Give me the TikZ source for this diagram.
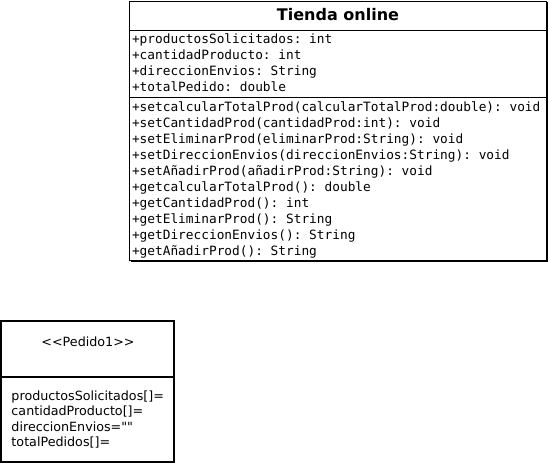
\documentclass[tikz,border=0pt]{standalone}
\usepackage{fontspec}
\setmainfont{DejaVu Sans}[Ligatures=TeXOff]
\setmonofont{DejaVu Sans Mono}

\tikzset{every picture/.style={line width=1pt}}
\tikzset{
  mono/.style={anchor=base west,inner sep=0pt,font=\fontsize{12.8}{16}\selectfont\ttfamily},
  sans/.style={anchor=base west,inner sep=0pt,font=\fontsize{12.7}{15.5}\selectfont},
}

\begin{document}
\begin{tikzpicture}[x=1pt,y=1pt,yscale=-1,xscale=1]
\useasboundingbox (0,0) rectangle (549,464);

%Shape: Rectangle [Tienda online]
\draw [fill=white] (129.5,1) -- (546,1) -- (546,260) -- (129.5,260) -- cycle ;
%Shadow edges
\draw [line width=1.2pt] (547,2) -- (547,261) -- (130.5,261) ;
%Straight Lines
\draw   (129.5,30) -- (546,30) ;
%Straight Lines
\draw   (129.5,97) -- (546,97) ;

%Shape: Rectangle [Pedido1]
\draw [line width=2pt] (1,321) -- (174,321) -- (174,462) -- (1,462) -- cycle ;
%Straight Lines
\draw [line width=2pt] (1,377) -- (174,377) ;

% Text Node
\node (tienda) [anchor=base,inner sep=0pt,font=\fontsize{16}{19}\selectfont\bfseries] at (338,20) {Tienda online};
% Text Node
\node (attr1) [mono] at (131.5,43) {+productosSolicitados: int};
% Text Node
\node (attr2) [mono] at (131.5,59) {+cantidadProducto: int};
% Text Node
\node (attr3) [mono] at (131.5,75) {+direccionEnvios: String};
% Text Node
\node (attr4) [mono] at (131.5,91) {+totalPedido: double};
% Text Node
\node (met1) [mono] at (131.5,111) {+setcalcularTotalProd(calcularTotalProd:double): void};
% Text Node
\node (met2) [mono] at (131.5,127) {+setCantidadProd(cantidadProd:int): void};
% Text Node
\node (met3) [mono] at (131.5,143) {+setEliminarProd(eliminarProd:String): void};
% Text Node
\node (met4) [mono] at (131.5,159) {+setDireccionEnvios(direccionEnvios:String): void};
% Text Node
\node (met5) [mono] at (131.5,175) {+setAñadirProd(añadirProd:String): void};
% Text Node
\node (met6) [mono] at (131.5,191) {+getcalcularTotalProd(): double};
% Text Node
\node (met7) [mono] at (131.5,207) {+getCantidadProd(): int};
% Text Node
\node (met8) [mono] at (131.5,223) {+getEliminarProd(): String};
% Text Node
\node (met9) [mono] at (131.5,239) {+getDireccionEnvios(): String};
% Text Node
\node (met10) [mono] at (131.5,255) {+getAñadirProd(): String};

% Text Node
\node (pedido) [sans,anchor=base] at (88,346.5) {<{}<Pedido1>{}>};
% Text Node
\node (val1) [sans] at (11,400) {productosSolicitados[]=};
% Text Node
\node (val2) [sans] at (11,415.5) {cantidadProducto[]=};
% Text Node
\node (val3) [sans] at (11,431) {direccionEnvios=""};
% Text Node
\node (val4) [sans] at (11,446.5) {totalPedidos[]=};

\end{tikzpicture}
\end{document}
